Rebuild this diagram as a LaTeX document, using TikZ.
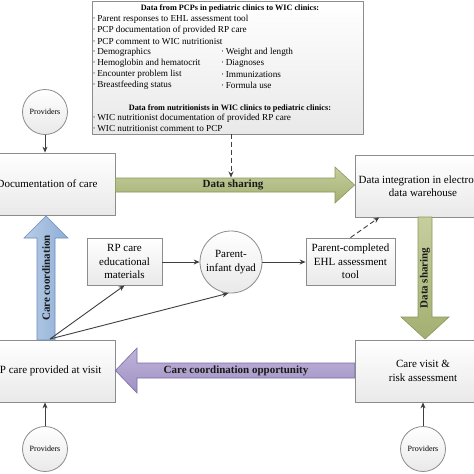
\documentclass[tikz,border=0pt]{standalone}
\usepackage{fontspec}
\setmainfont{Liberation Serif}
\usetikzlibrary{arrows.meta,calc}
\definecolor{boxline}{HTML}{8C8C8C}
\definecolor{boxbot}{HTML}{E9E9E9}
\definecolor{conncol}{HTML}{3F3F3F}
\definecolor{grnA}{HTML}{C6CE9E}
\definecolor{grnB}{HTML}{A3AF71}
\definecolor{grnL}{HTML}{8A985C}
\definecolor{purA}{HTML}{C0B5DA}
\definecolor{purB}{HTML}{9F90C3}
\definecolor{purL}{HTML}{7B6CA6}
\definecolor{bluA}{HTML}{B9CDE5}
\definecolor{bluB}{HTML}{8DAED6}
\definecolor{bluL}{HTML}{6A8CBD}
\begin{document}
\begin{tikzpicture}[x=1pt,y=-1pt,
  box/.style={draw=boxline, line width=0.8pt, top color=white, bottom color=boxbot,
    inner sep=0pt, align=center, font=\fontsize{11}{13.5}\selectfont},
  circ/.style={circle, draw=boxline, line width=0.8pt, top color=white, bottom color=boxbot,
    inner sep=0pt, align=center, font=\fontsize{11}{13.5}\selectfont},
  prov/.style={circ, minimum size=45pt, font=\fontsize{8}{10}\selectfont},
  conn/.style={draw=conncol, line width=0.9pt, -{Stealth[length=6pt,width=5pt]}},
  ttl/.style={font=\fontsize{8.2}{10}\selectfont\bfseries, inner sep=0pt},
  li/.style={font=\fontsize{9.2}{10}\selectfont, anchor=west, inner sep=0pt},
  biglabel/.style={font=\fontsize{11}{12}\selectfont\bfseries, inner sep=0pt, text=black!90},
  grnarrow/.style={draw=grnL, line width=0.6pt, top color=grnA, bottom color=grnB},
  purarrow/.style={draw=purL, line width=0.6pt, top color=purA, bottom color=purB},
  bluarrow/.style={draw=bluL, line width=0.6pt, left color=bluA, right color=bluB}
]
\useasboundingbox (0,0) rectangle (474,474);
\clip (0,0) rectangle (474,474);
\fill[white] (0,0) rectangle (474,474);

% top data box
\node[box, minimum width=271pt, minimum height=133pt] (data) at (227.5,67.5) {};
\node[ttl] (t1) at (230,8.3) {Data from PCPs in pediatric clinics to WIC clinics:};
\node[li] (l1) at (92.5,19.3) {·\,Parent responses to EHL assessment tool};
\node[li] (l2) at (92.5,30.7) {·\,PCP documentation of provided RP care};
\node[li] (l3) at (92.5,42) {·\,PCP comment to WIC nutritionist};
\node[li] (l4) at (92.5,52.7) {·\,Demographics};
\node[li] (l5) at (92.5,63.3) {·\,Hemoglobin and hematocrit};
\node[li] (l6) at (92.5,74.7) {·\,Encounter problem list};
\node[li] (l7) at (92.5,85.3) {·\,Breastfeeding status};
\node[li] (r4) at (221,52.7) {·\,Weight and length};
\node[li] (r5) at (221,63.3) {·\,Diagnoses};
\node[li] (r6) at (221,74.7) {·\,Immunizations};
\node[li] (r7) at (221,85.3) {·\,Formula use};
\node[ttl] (t2) at (230,108.3) {Data from nutritionists in WIC clinics to pediatric clinics:};
\node[li] (m1) at (92.5,118.3) {·\,WIC nutritionist documentation of provided RP care};
\node[li] (m2) at (92.5,128.3) {·\,WIC nutritionist comment to PCP};

% main boxes
\node[box, minimum width=136pt, minimum height=62pt] (doc) at (47,184) {Documentation of care};
\node[box, minimum width=136pt, minimum height=62pt] (rpv) at (47,371) {RP care provided at visit};
\node[box, minimum width=136pt, minimum height=62pt] (integ) at (423,186) {Data integration in electronic\\data warehouse};
\node[box, minimum width=136pt, minimum height=62pt] (visit) at (423,371) {Care visit \&\\risk assessment};

\node[box, minimum width=75pt, minimum height=47pt] (rped) at (124.5,261.5) {RP care\\educational\\materials};
\node[box, minimum width=89pt, minimum height=47pt] (ehl) at (350.5,261.5) {Parent-completed\\EHL assessment\\tool};
\node[circ, minimum size=62pt] (dyad) at (231,262) {Parent-\\infant dyad};

% providers
\node[prov] (prov1) at (45,112) {Providers};
\node[prov] (prov2) at (45,449) {Providers};
\node[prov] (prov3) at (423,449) {Providers};

% big arrows
\path[grnarrow] (doc.east |- 0,178) -- (335,178) -- (335,167) -- (integ.west |- 0,185) -- (335,203) -- (335,192) -- (doc.east |- 0,192) -- cycle;
\node[biglabel] (ds1) at (233,185) {Data sharing};
\path[grnarrow] (418,217) -- (418,317) -- (401,317) -- (425,339) -- (449,317) -- (432,317) -- (432,217) -- cycle;
\node[biglabel, rotate=90] (ds2) at (425,278) {Data sharing};
\path[purarrow] (visit.west |- 0,363) -- (137,363) -- (137,348) -- (rpv.east |- 0,370.5) -- (137,393) -- (137,378) -- (visit.west |- 0,378) -- cycle;
\node[biglabel] (cco) at (236,370.5) {Care coordination opportunity};
\path[bluarrow] (37,340) -- (37,238) -- (24,238) -- (46,216) -- (68,238) -- (55,238) -- (55,340) -- cycle;
\node[biglabel, rotate=90] (cc) at (46,278) {Care coordination};

% connectors
\draw[conn] (prov1.south) -- (prov1.south |- doc.north);
\draw[conn] (prov2.north) -- (prov2.north |- rpv.south);
\draw[conn] (prov3.north) -- (prov3.north |- visit.south);
\draw[conn] (rped.east |- dyad.west) -- (dyad.west);
\draw[conn] (dyad.east) -- (ehl.west |- dyad.east);
\coordinate (ehlTop) at (ehl.north);
\coordinate (integIn) at ($(integ.south west)!0.18!(integ.south east)$);
\draw[conn, dashed, dash pattern=on 5pt off 3pt] (ehlTop) -- (integIn);
\coordinate (dsTop) at (231,177.5);
\draw[conn, dashed, dash pattern=on 5pt off 3pt] (data.south -| dsTop) -- (dsTop);
\coordinate (rpvTop) at (50,339);
\draw[conn] (rpvTop) -- (rped.south);
\draw[conn] (rpvTop) -- (dyad.265);
\end{tikzpicture}
\end{document}
